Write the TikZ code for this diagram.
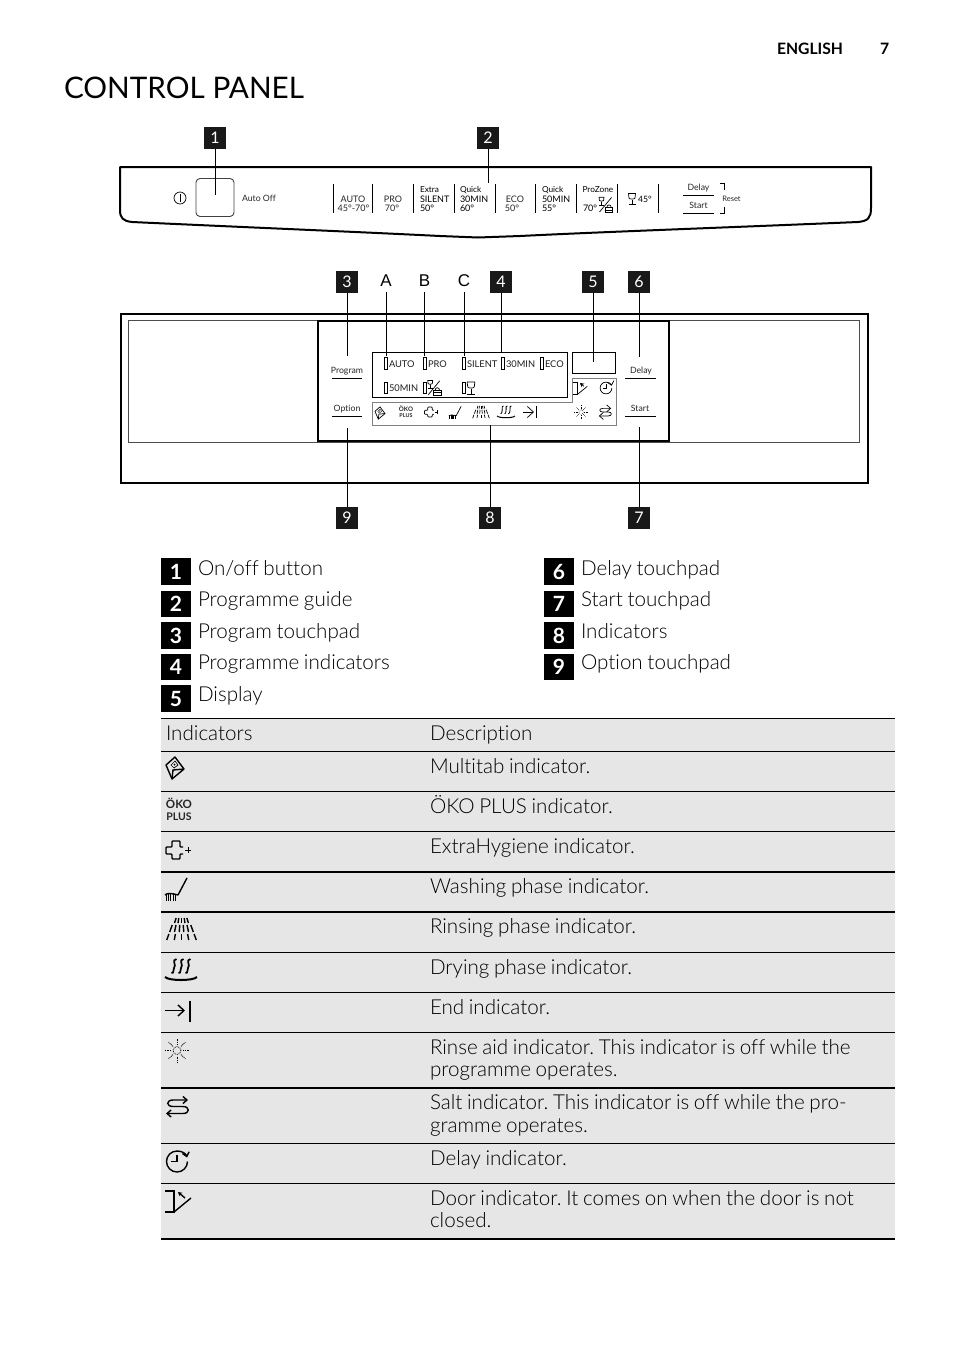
\documentclass[tikz,border=0pt]{standalone}
\usepackage{fontspec}
\setmainfont{Lato Light}[Ligatures=NoCommon,WordSpace=0.83]
\newfontfamily\boldf{Lato}[Ligatures=NoCommon]
\newfontfamily\arialf{Liberation Sans}
\usetikzlibrary{arrows.meta}
\frenchspacing
\newcommand{\fs}[1]{\fontsize{#1}{#1}\selectfont}
\definecolor{rowgray}{HTML}{E6E6E6}
\definecolor{framegray}{HTML}{808080}
\tikzset{
  x=1pt,y=-1pt,
  txt/.style={inner sep=0,outer sep=0,anchor=base west,text=black},
  bodytxt/.style={txt,yshift=.8pt,font=\frenchspacing\fs{20.6}},
  cell/.style={txt,yshift=.8pt,font=\frenchspacing\fs{20.6}},
  badge/.style={fill=black!90,text=white,minimum width=22pt,minimum height=22pt,inner sep=0,font=\boldf\fs{16}},
  bigbadge/.style={fill=black,text=white,minimum width=30pt,minimum height=26.5pt,inner sep=0,font=\boldf\bfseries\fs{21}},
  leader/.style={line width=1pt,black},
  rowline/.style={line width=1pt,black},
  rowlineb/.style={line width=1.8pt,black},
  ptxt/.style={inner sep=0,outer sep=0,anchor=base,font=\boldf\fs{9},text=black!85},
  ctxt/.style={inner sep=0,outer sep=0,anchor=center,text=black!85,font=\boldf},
  led/.style={draw,line width=.8pt,minimum width=3pt,minimum height=11.5pt,inner sep=0,anchor=center},
  ledtxt/.style={inner sep=0,outer sep=0,anchor=west,font=\boldf\fs{9.3},text=black!88},
  iconB/.style={line width=1.4pt,black,scale=1},
  iconS/.style={line width=.7pt,black,scale=.56},
  tabicon/.pic={
    \draw[line join=round] (-9,-3) -- (0,-11) -- (9,1) -- (-3,11) -- cycle;
    \draw (-3,11) -- (-2,2) -- (9,1);
    \draw[line width=.7*\pgflinewidth] (-4,-3) -- (0,-7) -- (3,-3) -- (-1,0) -- cycle;
    \fill (-.5,-3.5) circle (1);
  },
  crossicon/.pic={
    \draw[rounded corners=.8,line join=round] (7,-3) -- (4,-3) -- (4,-9) -- (-4,-9) -- (-4,-3) -- (-10,-3) -- (-10,4) -- (-4,4) -- (-4,9) -- (4,9) -- (4,4) -- (7,4);
    \draw[line width=.8*\pgflinewidth] (9,0) -- (15,0) (12,-3) -- (12,3);
  },
  brushicon/.pic={
    \draw (11,-12) -- (2,5);
    \draw (-11,5) .. controls (-9,3) and (-5,3) .. (2,5);
    \foreach \k in {-10,-7.6,-5.2,-2.8,-.4}{\draw[line width=.7*\pgflinewidth] (\k,4) -- (\k,11);}
  },
  rinseicon/.pic={
    \foreach \d in {-.3,-.15,0,.15,.3}{\draw ({\d*18},-11) -- ({\d*23},-6);}
    \foreach \d in {-.37,-.22,-.07,.07,.22,.37}{\draw ({\d*25},-4) -- ({\d*32},3);}
    \foreach \d in {-.37,-.18,0,.18,.37}{\draw ({\d*34},5) -- ({\d*40},11);}
  },
  dryicon/.pic={
    \foreach \k in {-7,0,7}{
      \draw[line width=1.1*\pgflinewidth] (\k+2.5,-9) .. controls (\k-3,-8) and (\k+3,-3) .. (\k,0) .. controls (\k-2,2) and (\k+1,5) .. (\k-2.5,5);
    }
    \draw[line width=1.2*\pgflinewidth] (-16,9) .. controls (-12,13) and (12,13) .. (16,9);
  },
  endicon/.pic={
    \draw[-{Straight Barb[length=6pt,width=11pt]}] (-13,0) -- (7,0);
    \draw (12,-10) -- (12,11);
  },
  sunicon/.pic={
    \draw[densely dotted] (0,0) circle (4);
    \foreach \a/\c in {6/0,4.2/4.2,0/6,-4.2/4.2,-6/0,-4.2/-4.2,0/-6,4.2/-4.2}{
      \draw[densely dotted] (\a,\c) -- ({2*\a},{2*\c});
    }
  },
  salticon/.pic={
    \draw[{Straight Barb[length=4pt,width=7pt]}-{Straight Barb[length=4pt,width=7pt]}] (-11,7)
       -- (6,7) .. controls (13,7) and (13,0) .. (6,0) -- (-4,0) .. controls (-11,0) and (-11,-6.5) .. (-4,-6.5) -- (11,-6.5);
  },
  delayicon/.pic={
    \draw (10.5,0) .. controls (10.5,5.8) and (5.8,10.5) .. (0,10.5)
      .. controls (-5.8,10.5) and (-10.5,5.8) .. (-10.5,0)
      .. controls (-10.5,-5.8) and (-5.8,-10.5) .. (0,-10.5);
    \draw[-{Straight Barb[length=4pt,width=7pt]}] (0,-10.5) .. controls (5,-10.5) and (9,-8) .. (10,-4);
    \draw (0,-7) -- (0,0) -- (-6,0);
  },
  dooricon/.pic={
    \draw (-13,-10) -- (-4,-10) -- (-4,11) -- (-13,11);
    \draw (-4,11) -- (13,-3);
    \draw[-{Stealth[length=4pt,width=4.5pt]}] (7,-3) -- (0,-9);
  },
  glassicon/.pic={
    \draw (-3.5,-6) -- (3.5,-6) -- (3,-1.5) .. controls (2,0) and (-2,0) .. (-3,-1.5) -- cycle;
    \draw (0,0) -- (0,5) (-3.5,5) -- (3.5,5);
  },
  basketicon/.pic={
    \draw (-4,-1) rectangle (4,4);
    \draw (-2.5,-1) .. controls (-2.5,-5) and (2.5,-5) .. (2.5,-1);
    \draw (-4,1.5) -- (4,1.5);
  },
  prozoneicon/.pic={
    \pic[scale=.7] at (-4,-3.5) {glassicon};
    \draw (-6,7) -- (6,-7.5);
    \pic[scale=.9] at (3.5,3.5) {basketicon};
  },
}
\begin{document}
\begin{tikzpicture}
\useasboundingbox (0,0) rectangle (954,1352);
% ---- header
\node[txt,font=\boldf\bfseries\fs{15.7}] (lang) at (777,54) {ENGLISH};
\node[txt,font=\boldf\bfseries\fs{15.7}] (pg) at (880,54) {7};
\node[txt,font=\boldf\fs{29.7}] (title) at (64,98) {CONTROL PANEL};

% ---- top panel
\draw[line width=2pt,line join=round] (120,210) -- (120,167) -- (871,167) -- (871,208)
   .. controls (871,218) and (868,221) .. (858,222)
   .. controls (740,227) and (600,232) .. (520,236) -- (478,237.5) -- (440,236)
   .. controls (360,232) and (240,227) .. (132,222)
   .. controls (123,221) and (120,218) .. (120,210);
\node[draw,rounded corners=4pt,line width=.9pt,black!75,minimum width=38pt,minimum height=38pt,inner sep=0] (onoff) at (215,197.5) {};
\node[draw,circle,line width=.7pt,minimum size=12pt,inner sep=0] (pwr) at (180,198) {};
\draw[line width=.7pt] (180,194) -- (180,202);
\node[ctxt,font=\boldf\fs{8.7}] (autooff) at (259,198) {Auto Off};
\foreach \x in {333,372.5,413.5,454.5,495.5,535.5,576.5,617.5,658}{
  \draw[line width=.8pt] (\x,184) -- (\x,213);
}
\node[ptxt] (t1a) at (353,202) {AUTO};
\node[ptxt] (t1b) at (353.5,211) {45°-70°};
\node[ptxt] (t2a) at (393,202) {PRO};
\node[ptxt] (t2b) at (392,211) {70°};
\node[txt,font=\boldf\fs{8.3}] (t3a) at (420,192.5) {Extra};
\node[txt,font=\boldf\fs{9}] (t3b) at (420,202) {SILENT};
\node[txt,font=\boldf\fs{9}] (t3c) at (420,211) {50°};
\node[txt,font=\boldf\fs{8.3}] (t4a) at (460,192.5) {Quick};
\node[txt,font=\boldf\fs{9}] (t4b) at (460,202) {30MIN};
\node[txt,font=\boldf\fs{9}] (t4c) at (460,211) {60°};
\node[ptxt] (t5a) at (515,202) {ECO};
\node[ptxt] (t5b) at (512,211) {50°};
\node[txt,font=\boldf\fs{8.3}] (t6a) at (542,192.5) {Quick};
\node[txt,font=\boldf\fs{9}] (t6b) at (542,202) {50MIN};
\node[txt,font=\boldf\fs{9}] (t6c) at (542,211) {55°};
\node[txt,font=\boldf\fs{8.3}] (t7a) at (582.5,192.5) {ProZone};
\node[txt,font=\boldf\fs{9}] (t7b) at (583,211) {70°};
\pic[line width=.7pt,scale=1] at (605.5,205) {prozoneicon};
\pic[line width=.7pt,scale=1] at (632,199.5) {glassicon};
\node[txt,font=\boldf\fs{8.7}] (t8) at (638,202) {45°};
\node[ctxt,font=\boldf\fs{8.7}] (dly) at (698.5,188) {Delay};
\draw[line width=.9pt] (683,195) -- (714,195);
\node[ctxt,font=\boldf\fs{8.7}] (sta) at (698.5,205) {Start};
\draw[line width=.9pt] (683,213.5) -- (714,213.5);
\draw[line width=.8pt] (720,183) -- (724,183) -- (724,190);
\draw[line width=.8pt] (720,213) -- (724,213) -- (724,207);
\node[ctxt,font=\boldf\fs{7.5}] (reset) at (731.5,198.5) {Reset};

\node[badge] (b1) at (215,138) {1};
\node[badge] (b2) at (488,138) {2};
\coordinate (e1) at (215,195);
\coordinate (e2) at (488,183);
\draw[leader] (b1) -- (e1);
\draw[leader] (b2) -- (e2);

% ---- lower panel
\draw[line width=.5pt,black!70] (128,320) rectangle (859,442);
\draw[line width=1.8pt] (121,314) rectangle (868,483);
\draw[line width=2.2pt,fill=white] (318,321) rectangle (669,441);
\node[draw,line width=.9pt,minimum width=195pt,minimum height=45pt,inner sep=0,anchor=north west] (prog) at (372,352) {};
\node[draw,line width=1.4pt,minimum width=43pt,minimum height=21pt,inner sep=0,anchor=north west] (disp) at (572,352) {};
\draw[framegray,line width=.9pt] (372,402) -- (572,402) -- (572,378) -- (616,378) -- (616,425) -- (372,425) -- cycle;
\coordinate (indb) at (490,425);

% touch labels
\node[ctxt,font=\boldf\fs{8.7}] (lprog) at (347,371) {Program};
\draw[line width=.8pt] (332,378.5) -- (362,378.5);
\node[ctxt,font=\boldf\fs{8.7}] (lopt) at (347,409) {Option};
\draw[line width=.8pt] (332,416.5) -- (362,416.5);
\node[ctxt,font=\boldf\fs{8.7}] (ldel) at (641,371) {Delay};
\draw[line width=.8pt] (625,378.5) -- (656,378.5);
\node[ctxt,font=\boldf\fs{8.7}] (lsta) at (640,408) {Start};
\draw[line width=.8pt] (625,416.5) -- (656,416.5);

% leds row 1
\node[led] (l1) at (385.5,363.5) {};
\node[ledtxt] at (389,364) {AUTO};
\node[led] (l2) at (425,363.5) {};
\node[ledtxt] at (428,364) {PRO};
\node[led] (l3) at (464,363.5) {};
\node[ledtxt] at (467,364) {SILENT};
\node[led] (l4) at (503,363.5) {};
\node[ledtxt] at (506,364) {30MIN};
\node[led] (l5) at (541.5,363.5) {};
\node[ledtxt] at (545,364) {ECO};
% leds row 2
\node[led] (l6) at (385.5,388) {};
\node[ledtxt] at (389,388) {50MIN};
\node[led] (l7) at (425,388) {};
\pic[line width=.7pt,scale=.95] at (434,388) {prozoneicon};
\node[led] (l8) at (464,388) {};
\pic[line width=.7pt,scale=1.1] at (471,388.5) {glassicon};

% small indicator icons
\pic[iconS] at (380,413) {tabicon};
\node[ctxt,font=\boldf\bfseries\fs{6.2}] (so) at (406,408.5) {ÖKO};
\node[ctxt,font=\boldf\bfseries\fs{5.4}] (sp) at (406,416) {PLUS};
\pic[iconS] at (430,412) {crossicon};
\pic[iconS] at (455,413) {brushicon};
\pic[iconS] at (481,412) {rinseicon};
\pic[iconS] at (506,411) {dryicon};
\pic[iconS] at (530,412) {endicon};
\pic[iconS,line width=.5pt] at (581,412) {sunicon};
\pic[iconS] at (605,412) {salticon};
\pic[iconS] at (606,388) {delayicon};
\pic[iconS] at (580,388) {dooricon};

% badges and leaders of lower panel
\node[badge] (b3) at (347,282) {3};
\node[badge] (b4) at (501,282) {4};
\node[badge] (b5) at (593,282) {5};
\node[badge] (b6) at (639,282) {6};
\node[badge] (b9) at (347,518) {9};
\node[badge] (b8) at (490,518) {8};
\node[badge] (b7) at (639,518) {7};
\node[inner sep=0,font=\arialf\fs{17}] (la) at (386,281) {A};
\node[inner sep=0,font=\arialf\fs{17}] (lb) at (424.5,281) {B};
\node[inner sep=0,font=\arialf\fs{17}] (lc) at (464,281) {C};
\coordinate (e3) at (347,356);
\coordinate (ea) at (386,356);
\coordinate (eb) at (424.5,356);
\coordinate (ec) at (464,356);
\coordinate (e4) at (501,352);
\coordinate (e5) at (593,362);
\coordinate (e6) at (639,357);
\coordinate (e9) at (347,428);
\coordinate (e7) at (639,427);
\draw[leader] (b3) -- (e3);
\draw[leader] (la.south |- 0,292) -- (ea);
\draw[leader] (lb.south |- 0,292) -- (eb);
\draw[leader] (lc.south |- 0,292) -- (ec);
\draw[leader] (b4) -- (e4);
\draw[leader] (b5) -- (e5);
\draw[leader] (b6) -- (e6);
\draw[leader] (b9) -- (e9);
\draw[leader] (b8) -- (indb);
\draw[leader] (b7) -- (e7);

% ---- legend
\foreach \n/\y/\by/\t in {1/571.5/576/{On/off button},2/604/607/Programme guide,3/635.5/639/Program touchpad,4/667/670/Programme indicators,5/698.5/702/Display}{
  \node[bigbadge] (k\n) at (176,\y) {\n};
  \node[bodytxt] (kt\n) at (198,\by) {\t};
}
\foreach \n/\y/\by/\t in {6/571.5/576/Delay touchpad,7/604/607/Start touchpad,8/635.5/639/Indicators,9/667/670/Option touchpad}{
  \node[bigbadge] (k\n) at (559,\y) {\n};
  \node[bodytxt] (kt\n) at (581,\by) {\t};
}

% ---- table
\fill[rowgray] (161,718) rectangle (895,1239);
\foreach \y in {718,751,791,831,952,992,1032,1143,1183}{\draw[rowline] (161,\y) -- (895,\y);}
\foreach \y in {872,912,1088,1239}{\draw[rowlineb] (161,\y) -- (895,\y);}
\node[cell] (h1) at (166,741) {Indicators};
\node[cell] (h2) at (430,741) {Description};
\node[cell] (r1) at (430,774) {Multitab indicator.};
\node[cell] (r2) at (430,814) {ÖKO PLUS indicator.};
\node[cell] (r3) at (430,854) {ExtraHygiene indicator.};
\node[cell] (r4) at (430,894) {Washing phase indicator.};
\node[cell] (r5) at (430,934) {Rinsing phase indicator.};
\node[cell] (r6) at (430,975) {Drying phase indicator.};
\node[cell] (r7) at (430,1015) {End indicator.};
\node[cell] (r8) at (430,1055) {Rinse aid indicator. This indicator is off while the};
\node[cell] (r8b) at (430,1077) {programme operates.};
\node[cell] (r9) at (430,1110) {Salt indicator. This indicator is off while the pro-};
\node[cell] (r9b) at (430,1133) {gramme operates.};
\node[cell] (r10) at (430,1166) {Delay indicator.};
\node[cell] (r11) at (430,1206) {Door indicator. It comes on when the door is not};
\node[cell] (r11b) at (430,1228) {closed.};

\pic[iconB] at (175,768) {tabicon};
\node[ctxt,font=\boldf\bfseries\fs{11.5}] (to) at (179,803) {ÖKO};
\node[ctxt,font=\boldf\bfseries\fs{10.5}] (tp) at (179,816.5) {PLUS};
\pic[iconB] at (176,850) {crossicon};
\pic[iconB] at (176,890) {brushicon};
\pic[iconB] at (181.5,929) {rinseicon};
\pic[iconB] at (181,968) {dryicon};
\pic[iconB] at (178,1010.5) {endicon};
\pic[iconB,line width=.8pt] at (177,1050.5) {sunicon};
\pic[iconB] at (177,1106.5) {salticon};
\pic[iconB] at (177,1161.5) {delayicon};
\pic[iconB] at (178,1201) {dooricon};
\end{tikzpicture}
\end{document}
